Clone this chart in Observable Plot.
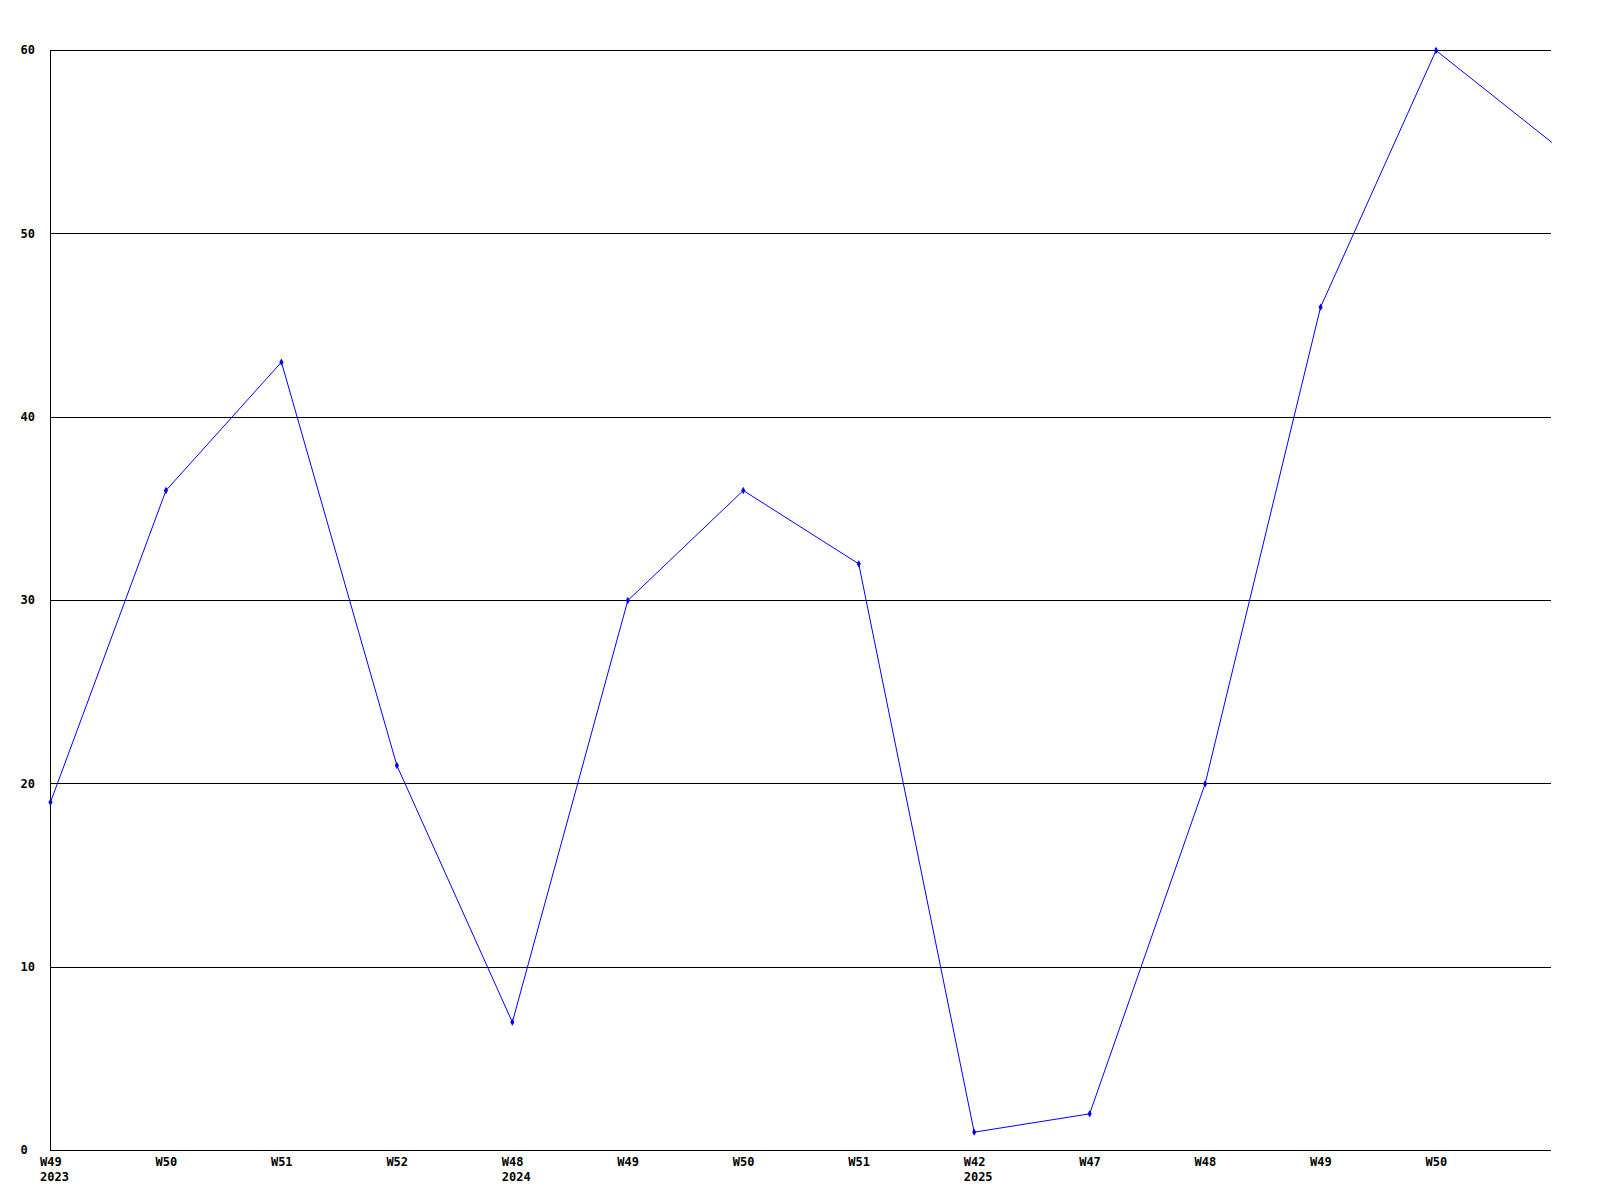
<!DOCTYPE html>
<html>
<head>
<meta charset="utf-8">
<script src="https://cdn.jsdelivr.net/npm/d3@7"></script>
<script src="https://cdn.jsdelivr.net/npm/@observablehq/plot@0.6"></script>
<style>
  html, body { margin: 0; padding: 0; background: #fff; }
</style>
</head>
<body>
<div id="chart"></div>
<script>
const weeks = ["W49", "W50", "W51", "W52", "W48", "W49", "W50", "W51", "W42", "W47", "W48", "W49", "W50", ""];
const years = ["2023", "", "", "", "2024", "", "", "", "2025", "", "", "", "", ""];
const values = [19, 36, 43, 21, 7, 30, 36, 32, 1, 2, 20, 46, 60, 55];
const yTicks = [0, 10, 20, 30, 40, 50, 60];

const data = values.map((v, i) => ({i, v, week: weeks[i], year: years[i],
  label: years[i] ? weeks[i] + "\n" + years[i] : weeks[i]}));
const marked = data.filter(d => d.week !== "");

const font = "'DejaVu Sans Mono', monospace";

const chart = Plot.plot({
  width: 1600,
  height: 1200,
  marginLeft: 50,
  marginRight: 49,
  marginTop: 50,
  marginBottom: 50,
  x: {domain: [0, values.length - 1], axis: null},
  y: {domain: [0, 60], axis: null},
  style: {background: "#fff", fontFamily: font},
  marks: [
    Plot.ruleY(yTicks, {stroke: "#000", strokeWidth: 1, shapeRendering: "crispEdges"}),
    Plot.ruleX([0], {stroke: "#000", strokeWidth: 1, shapeRendering: "crispEdges"}),
    Plot.line(data, {x: "i", y: "v", stroke: "#0000ff", strokeWidth: 1}),
    Plot.dot(marked, {x: "i", y: "v", symbol: "diamond", r: 2.2, fill: "#0000ff", stroke: "none"}),
    Plot.text(yTicks, {x: () => 0, y: d => d, text: d => String(d), textAnchor: "start", dx: -30,
      fontSize: 12, fontWeight: "bold", fill: "#000"}),
    Plot.text(marked, {x: "i", y: () => 0, text: "label", textAnchor: "start", lineAnchor: "top",
      dx: -10.5, dy: 5, lineHeight: 1.25, fontSize: 12, fontWeight: "bold", fill: "#000"})
  ]
});

document.getElementById("chart").appendChild(chart);
</script>
</body>
</html>
